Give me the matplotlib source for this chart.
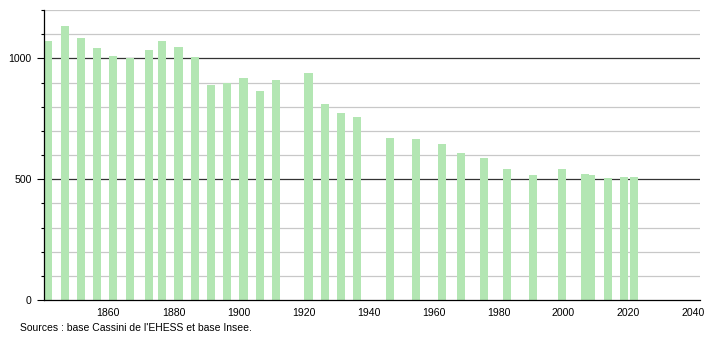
import numpy as np
import matplotlib.pyplot as plt
from matplotlib.ticker import MultipleLocator

plt.rcParams['font.family'] = ['Liberation Sans', 'DejaVu Sans']

years = [1841, 1846, 1851, 1856, 1861, 1866, 1872, 1876, 1881, 1886, 1891, 1896,
         1901, 1906, 1911, 1921, 1926, 1931, 1936, 1946, 1954, 1962, 1968, 1975,
         1982, 1990, 1999, 2006, 2008, 2013, 2018, 2021]
population = [1070, 1133, 1083, 1041, 1008, 1000, 1033, 1070, 1046, 1004, 888, 899,
              917, 863, 909, 938, 809, 772, 759, 672, 668, 647, 610, 589,
              542, 519, 542, 523, 519, 506, 510, 510]

fig = plt.figure(figsize=(7.1, 3.4), dpi=100)
ax = fig.add_axes([0.062, 0.1176, 0.924, 0.853])

# grid: light every 100, dark at 500 / 1000
for v in range(100, 1201, 100):
    if v % 500 == 0 and v < 1200:
        ax.axhline(v, color='#333333', lw=0.9, zorder=1)
    else:
        ax.axhline(v, color='#c8c8c8', lw=0.9, zorder=1)

ax.bar(np.array(years) - 0.7, population, width=2.5, align='edge',
       color='#b3e6b3', zorder=2)

ax.set_xlim(1840.2, 2042)
ax.set_ylim(0, 1200)
ax.set_xticks(range(1860, 2041, 20))
ax.set_yticks([0, 500, 1000])
ax.yaxis.set_minor_locator(MultipleLocator(100))
ax.tick_params(axis='x', length=0, labelsize=7.6, pad=6)
ax.tick_params(axis='y', which='major', length=5, width=0.8, labelsize=7.6, pad=4)
ax.tick_params(axis='y', which='minor', length=2.5, width=0.8)

for s in ['top', 'right']:
    ax.spines[s].set_visible(False)
ax.spines['left'].set_linewidth(0.9)
ax.spines['bottom'].set_linewidth(0.9)
ax.spines['left'].set_zorder(3)
ax.spines['bottom'].set_zorder(3)

fig.text(20 / 710, 1 - 328 / 340, "Sources : base Cassini de l'EHESS et base Insee.",
         fontsize=7.45, va='center', ha='left')

fig.savefig('out.png', dpi=100)
